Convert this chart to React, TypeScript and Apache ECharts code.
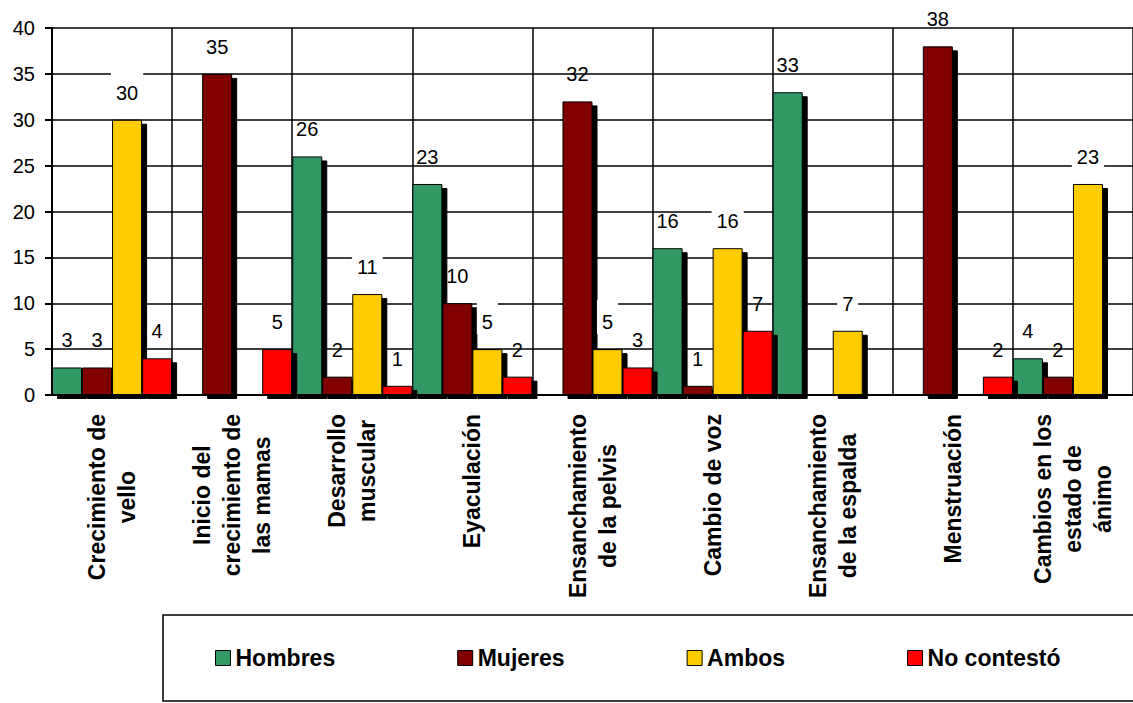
import React, { useEffect, useRef } from "react";
import * as echarts from "echarts";

const categories = [
  "Crecimiento de\nvello",
  "Inicio del\ncrecimiento de\nlas mamas",
  "Desarrollo\nmuscular",
  "Eyaculación",
  "Ensanchamiento\nde la pelvis",
  "Cambio de voz",
  "Ensanchamiento\nde la espalda",
  "Menstruación",
  "Cambios en los\nestado de\nánimo",
];
const hombres = [3, 0, 26, 23, 0, 16, 33, 0, 4];
const mujeres = [3, 35, 2, 10, 32, 1, 0, 38, 2];
const ambos = [30, 0, 11, 5, 5, 16, 7, 0, 23];
const noContesto = [4, 5, 1, 2, 3, 7, 0, 2, 0];
const seriesNames = ["Hombres", "Mujeres", "Ambos", "No contestó"];
const seriesColors = ["#339966", "#800000", "#FFCC00", "#FF0000"];
const yMin = 0;
const yMax = 40;
const yInterval = 5;

export default function App() {
  const ref = useRef<HTMLDivElement>(null);
  useEffect(() => {
    if (!ref.current) return;
    const chart = echarts.init(ref.current, null, { renderer: "svg" });
    const font = "'Liberation Sans', Arial, Helvetica, sans-serif";
    const data = [hombres, mujeres, ambos, noContesto];
    const option: any = {
      animation: false,
      backgroundColor: "#ffffff",
      textStyle: { fontFamily: font, color: "#000" },
      grid: { left: 52, top: 28, width: 1092, height: 367, containLabel: false },
      graphic: [
        {
          type: "rect",
          shape: { x: 163, y: 615, width: 1000, height: 86 },
          style: { fill: "none", stroke: "#000", lineWidth: 1.5 },
          z: 0,
        },
      ],
      legend: {
        left: 215,
        top: 645,
        padding: 0,
        itemGap: 122,
        itemWidth: 15,
        itemHeight: 15,
        icon: "rect",
        selectedMode: false,
        data: seriesNames,
        textStyle: { fontSize: 23, fontWeight: "bold", color: "#000", lineHeight: 26, fontFamily: font },
        itemStyle: {
          borderColor: "#000",
          borderWidth: 1,
          shadowBlur: 0,
          shadowOffsetX: 0,
          shadowOffsetY: 0,
          shadowColor: "rgba(0,0,0,0)",
        },
      },
      xAxis: {
        type: "category",
        data: categories,
        axisLine: { show: true, lineStyle: { color: "#000", width: 2 } },
        axisTick: { show: false, interval: 0 },
        axisLabel: {
          interval: 0,
          rotate: 90,
          margin: 19,
          formatter: (v: string) => v.split("\n").map((l) => `{c|${l}}`).join("\n"),
          rich: {
            c: {
              fontSize: 23,
              fontWeight: "bold",
              lineHeight: 30,
              align: "center",
              color: "#000",
              fontFamily: font,
            },
          },
        },
        splitLine: { show: true, interval: 0, lineStyle: { color: "#000", width: 1.5 } },
      },
      yAxis: {
        type: "value",
        min: yMin,
        max: yMax,
        interval: yInterval,
        axisLine: { show: true, lineStyle: { color: "#000", width: 2 } },
        axisTick: { show: true, length: 7, lineStyle: { color: "#000", width: 2 } },
        axisLabel: { fontSize: 20, color: "#000", margin: 17, fontFamily: font },
        splitLine: { show: true, lineStyle: { color: "#000", width: 1.5 } },
      },
      series: data.map((vals, i) => ({
        name: seriesNames[i],
        type: "bar",
        data: vals.map((v) => (v === 0 ? "-" : v)),
        barGap: "0%",
        barCategoryGap: "0%",
        itemStyle: {
          color: seriesColors[i],
          borderColor: "#000",
          borderWidth: 1,
          shadowColor: "#000",
          shadowOffsetX: 5,
          shadowOffsetY: 4,
          shadowBlur: 0,
        },
        emphasis: { disabled: true },
        label: {
          show: true,
          position: "top",
          distance: i === 2 ? 15 : 17,
          fontSize: 20,
          color: "#000",
          fontFamily: font,
          ...(i === 2 ? { backgroundColor: "#fff", padding: [12, 5, 2, 5] } : {}),
        },
      })),
    };
    chart.setOption(option);
    return () => chart.dispose();
  }, []);
  return (
    <div
      ref={ref}
      style={{ position: "absolute", left: 0, top: 0, width: 1133, height: 703 }}
    />
  );
}
